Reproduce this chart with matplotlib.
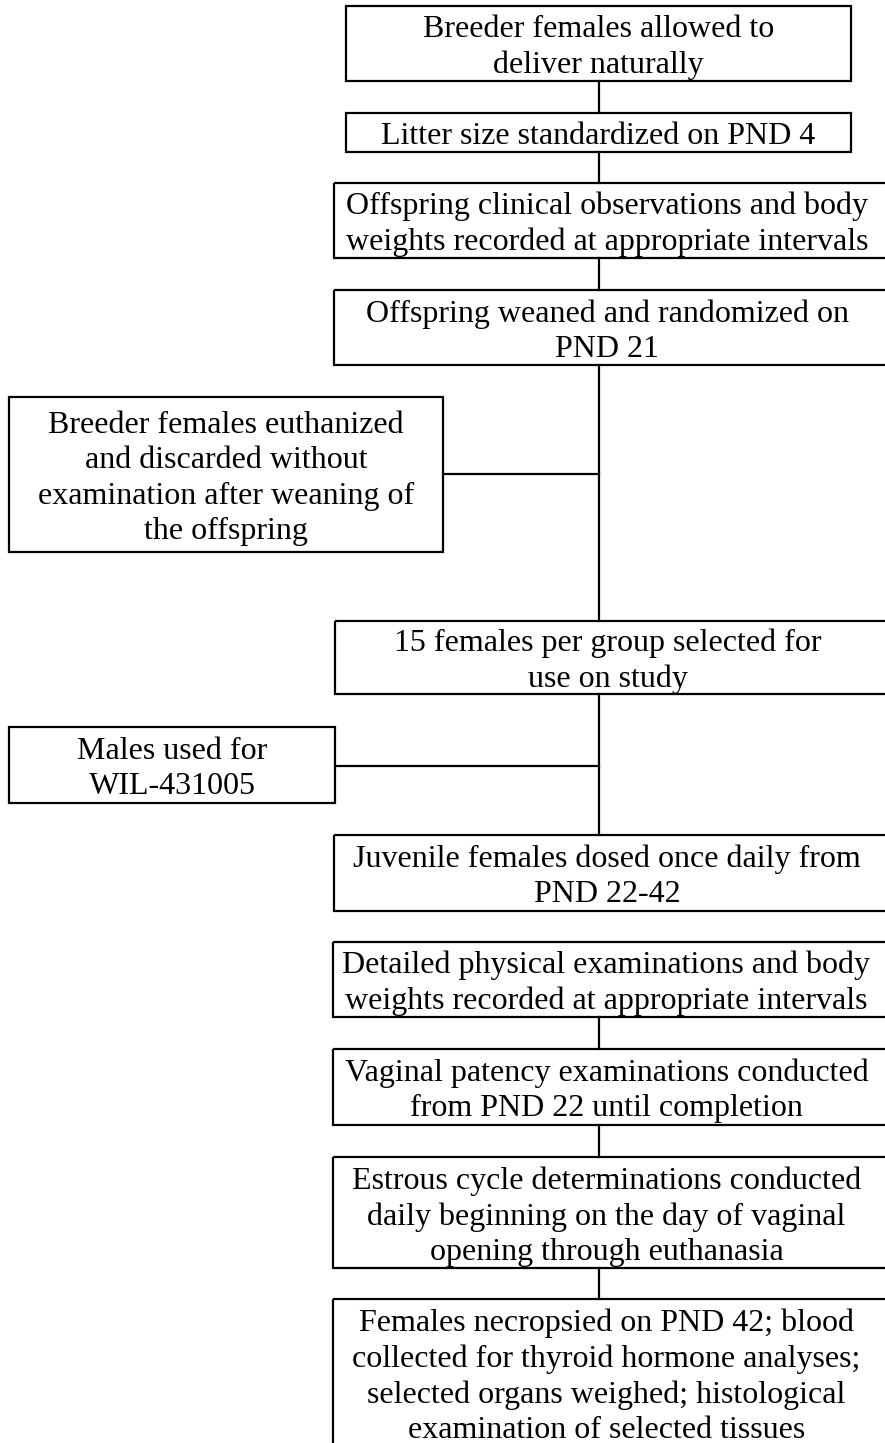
import matplotlib
matplotlib.use("Agg")
import matplotlib.pyplot as plt
from matplotlib.patches import Rectangle

W, H = 885, 1443

# Flowchart content
main_labels = [
    "Breeder females allowed to\ndeliver naturally",
    "Litter size standardized on PND 4",
    "Offspring clinical observations and body\nweights recorded at appropriate intervals",
    "Offspring weaned and randomized on\nPND 21",
    "15 females per group selected for\nuse on study",
    "Juvenile females dosed once daily from\nPND 22-42",
    "Detailed physical examinations and body\nweights recorded at appropriate intervals",
    "Vaginal patency examinations conducted\nfrom PND 22 until completion",
    "Estrous cycle determinations conducted\ndaily beginning on the day of vaginal\nopening through euthanasia",
    "Females necropsied on PND 42; blood\ncollected for thyroid hormone analyses;\nselected organs weighed; histological\nexamination of selected tissues",
]
side_labels = [
    "Breeder females euthanized\nand discarded without\nexamination after weaning of\nthe offspring",
    "Males used for\nWIL-431005",
]

# Layout (pixels)
main_boxes = [  # (x0, x1, y0, y1); x1 > 880 means the box runs off the page
    (346, 851, 6, 81),
    (346, 851, 113, 152),
    (334, 880, 183, 258),
    (334, 880, 290, 365),
    (335, 880, 621, 694),
    (334, 880, 835, 911),
    (333, 880, 942, 1017),
    (333, 880, 1049, 1125),
    (333, 880, 1157, 1268),
    (333, 880, 1299, 1470),
]
side_boxes = [
    (9, 443, 397, 552),
    (9, 335, 727, 803),
]
main_text_y = [None] * 9 + [1377]
side_conn_y = [474, 766]
line_x = 599
# connectors between consecutive main boxes (index pairs)
links = [(0, 1), (1, 2), (2, 3), (3, 4), (4, 5), (6, 7), (7, 8), (8, 9)]

fig = plt.figure(figsize=(W / 100, H / 100), dpi=100)
ax = fig.add_axes([0, 0, 1, 1])
ax.set_xlim(0, W)
ax.set_ylim(H, 0)
ax.axis("off")

font = dict(family="Liberation Serif", fontsize=23.0, color="black",
            ha="center", va="center", linespacing=1.28)
lw = 1.6
dy = 4

def box(b, label, ty=None):
    x0, x1, y0, y1 = b
    right = x1 if x1 < 870 else 900  # wide boxes run off the page edge
    ax.add_patch(Rectangle((x0, y0), right - x0, y1 - y0, fill=False,
                           edgecolor="black", linewidth=lw))
    cy = (y0 + y1) / 2 + dy if ty is None else ty
    ax.text((x0 + x1) / 2, cy, label, **font)

for b, lab, ty in zip(main_boxes, main_labels, main_text_y):
    box(b, lab, ty)
for b, lab in zip(side_boxes, side_labels):
    box(b, lab)

for a, c in links:
    ax.plot([line_x, line_x], [main_boxes[a][3], main_boxes[c][2]],
            color="black", linewidth=lw)
for b, yc in zip(side_boxes, side_conn_y):
    ax.plot([b[1], line_x], [yc, yc], color="black", linewidth=lw)

fig.savefig("out.png", dpi=100, facecolor="white")
